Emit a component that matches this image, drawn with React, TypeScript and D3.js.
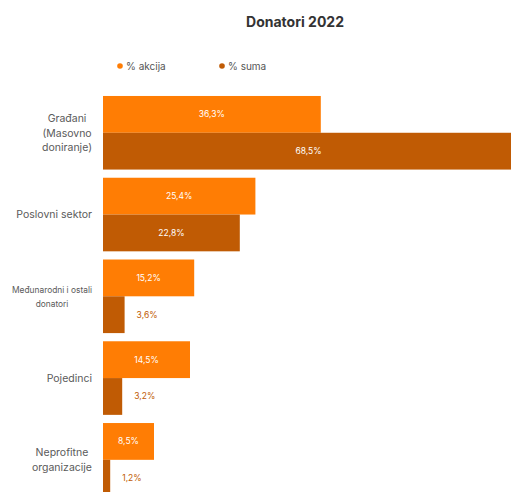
import React, { useEffect, useRef } from "react";
import * as d3 from "d3";

const categories = [
  "Građani (Masovno doniranje)",
  "Poslovni sektor",
  "Međunarodni i ostali donatori",
  "Pojedinci",
  "Neprofitne organizacije",
];
const categoryLines = [
  ["Građani", "(Masovno", "doniranje)"],
  ["Poslovni sektor"],
  ["Međunarodni i ostali", "donatori"],
  ["Pojedinci"],
  ["Neprofitne", "organizacije"],
];
const series = ["% akcija", "% suma"];
const akcija = [36.3, 25.4, 15.2, 14.5, 8.5];
const suma = [68.5, 22.8, 3.6, 3.2, 1.2];

const W = 511;
const H = 492;
const COLORS = ["#FF7D04", "#C05B04"];
const FONT = "Inter, 'DejaVu Sans', sans-serif";

export default function App() {
  const ref = useRef<SVGSVGElement>(null);

  useEffect(() => {
    const svg = d3.select(ref.current);
    svg.selectAll("*").remove();

    const x = d3.scaleLinear().domain([0, 68.5]).range([103, 514]);
    const y0 = d3
      .scaleBand<string>()
      .domain(categories)
      .range([87.8, 504.8])
      .paddingInner(0.1)
      .paddingOuter(0.1);
    const y1 = d3
      .scaleBand<string>()
      .domain(series)
      .range([0, y0.bandwidth()]);

    // title
    svg
      .append("text")
      .attr("x", 295)
      .attr("y", 27)
      .attr("text-anchor", "middle")
      .attr("font-family", FONT)
      .attr("font-size", 14)
      .attr("font-weight", 700)
      .attr("fill", "#333")
      .text("Donatori 2022");

    // legend
    const legendX = [120, 222];
    series.forEach((s, i) => {
      svg
        .append("circle")
        .attr("cx", legendX[i])
        .attr("cy", 66)
        .attr("r", 2.8)
        .attr("fill", COLORS[i]);
      svg
        .append("text")
        .attr("x", legendX[i] + 6)
        .attr("y", 69.5)
        .attr("font-family", FONT)
        .attr("font-size", 10)
        .attr("fill", "#555")
        .text(s);
    });

    const data = categories.map((c, i) => ({ c, vals: [akcija[i], suma[i]] }));
    const g = svg
      .selectAll("g.grp")
      .data(data)
      .join("g")
      .attr("class", "grp")
      .attr("transform", (d) => `translate(0,${y0(d.c)})`);

    g.each(function (d) {
      const gg = d3.select(this);
      d.vals.forEach((v, si) => {
        const yy = y1(series[si])!;
        const bw = x(v) - x(0);
        gg.append("rect")
          .attr("x", x(0))
          .attr("y", yy)
          .attr("width", bw)
          .attr("height", y1.bandwidth())
          .attr("fill", COLORS[si]);
        const label = v.toFixed(1).replace(".", ",") + "%";
        const inside = bw > 40;
        gg.append("text")
          .attr("x", inside ? (x(0) + x(v)) / 2 : x(v) + 12)
          .attr("y", yy + y1.bandwidth() / 2 + 3)
          .attr("text-anchor", inside ? "middle" : "start")
          .attr("font-family", FONT)
          .attr("font-size", 8.5)
          .attr("fill", inside ? "#fff" : COLORS[si])
          .text(label);
      });
    });

    // category labels
    const lh = 14.5;
    const maxAllowed = 80;
    categoryLines.forEach((lines, i) => {
      const cy = y0(categories[i])! + y0.bandwidth() / 2;
      let fs = 10.5;
      const t = svg
        .append("text")
        .attr("font-family", FONT)
        .attr("font-size", fs)
        .attr("fill", "#5a5a5a");
      const tspans = lines.map((ln, k) =>
        t
          .append("tspan")
          .attr("y", cy + (k - (lines.length - 1) / 2) * lh + 3.8)
          .text(ln)
      );
      let maxW = 0;
      tspans.forEach((ts) => {
        const node = ts.node() as SVGTSpanElement;
        maxW = Math.max(maxW, node.getComputedTextLength());
      });
      if (maxW > maxAllowed) {
        fs = (fs * maxAllowed) / maxW;
        t.attr("font-size", fs);
        maxW = maxAllowed;
      }
      const cx = 92 - maxW / 2;
      tspans.forEach((ts) => ts.attr("x", cx).attr("text-anchor", "middle"));
    });
  }, []);

  return (
    <svg
      ref={ref}
      width={W}
      height={H}
      style={{ position: "absolute", left: 0, top: 0, background: "#fff" }}
    />
  );
}
